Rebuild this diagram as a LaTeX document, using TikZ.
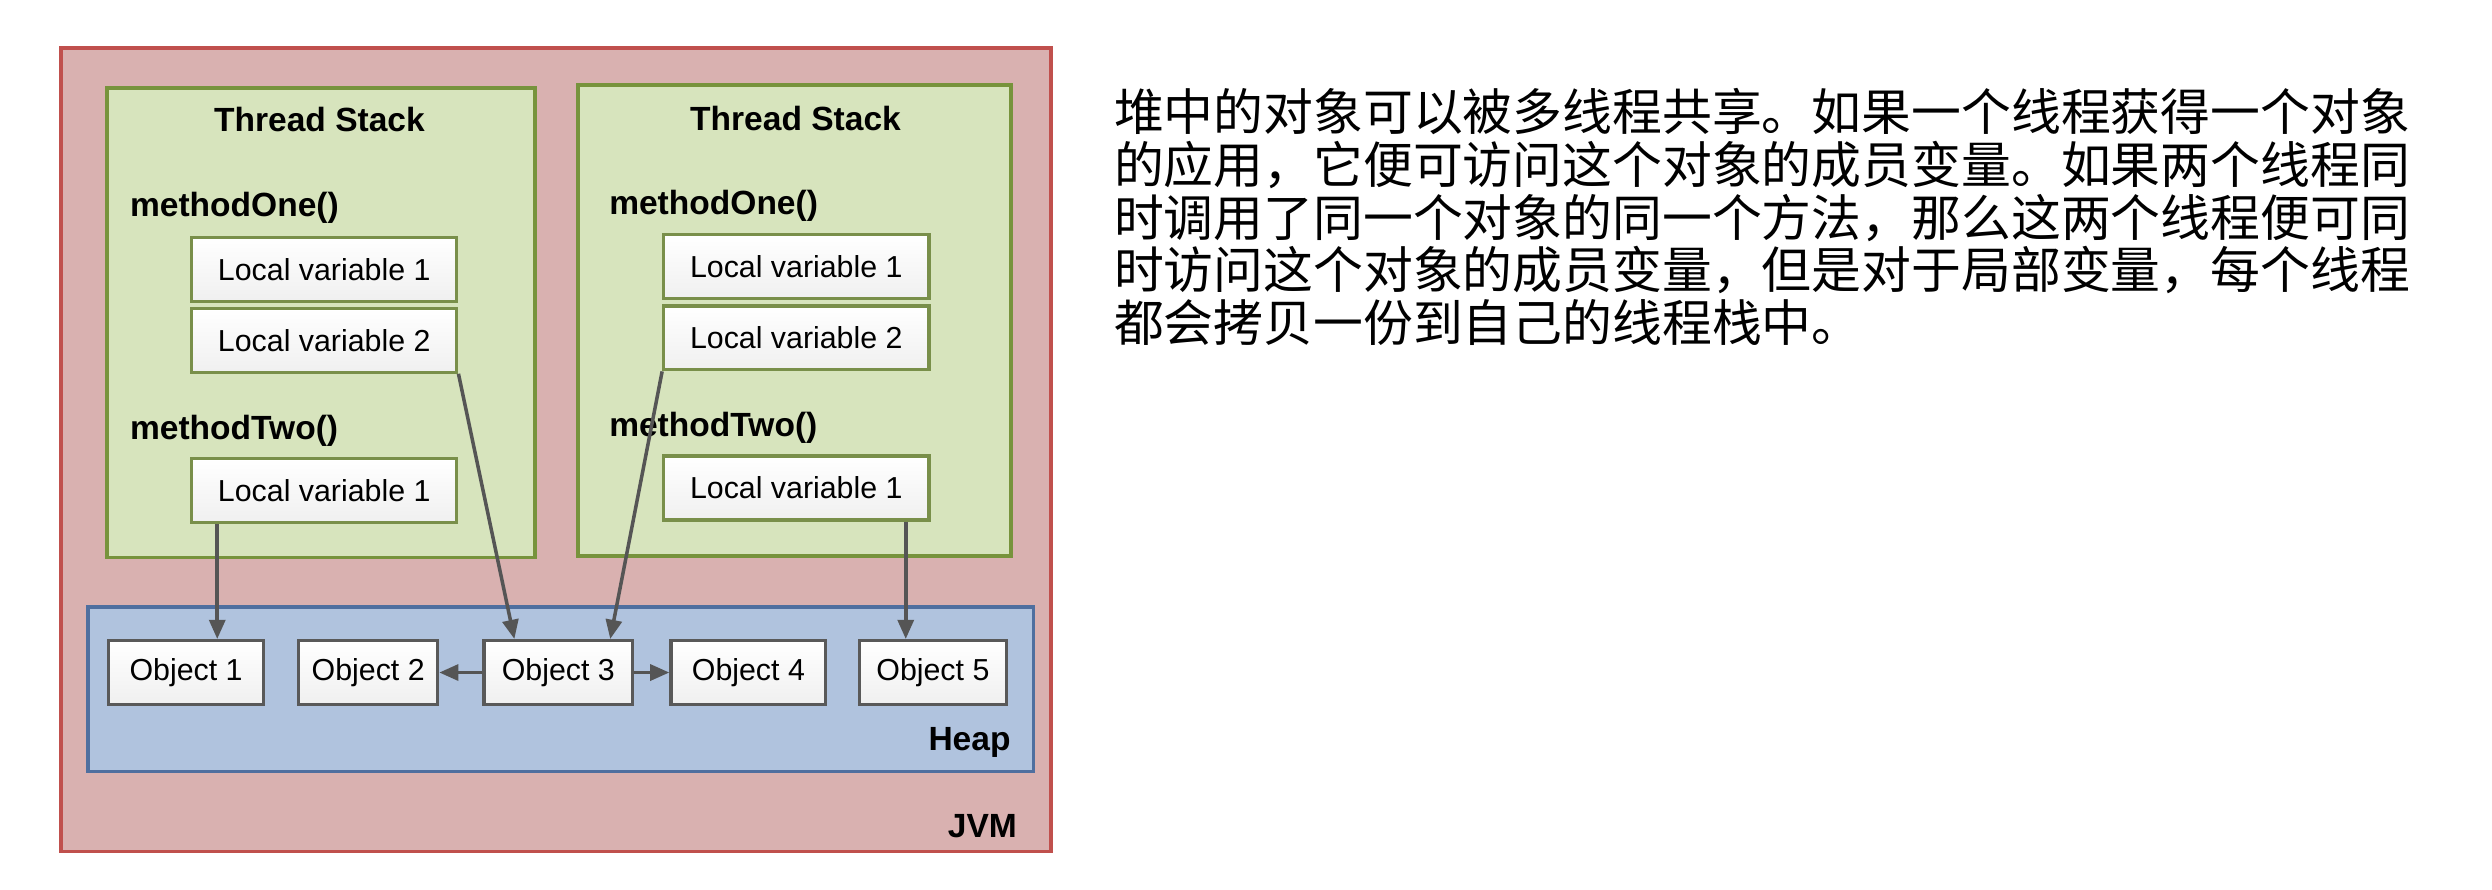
\documentclass[tikz,border=0pt]{standalone}
\usepackage{fontspec}
\setmainfont{Liberation Sans}
\newfontfamily\cjk{Noto Sans CJK SC}
\usetikzlibrary{arrows.meta}
\definecolor{jvmfill}{HTML}{D9B1B0}
\definecolor{jvmdraw}{HTML}{C0504D}
\definecolor{tsfill}{HTML}{D7E4BD}
\definecolor{tsdraw}{HTML}{77933C}
\definecolor{heapfill}{HTML}{B0C3DE}
\definecolor{heapdraw}{HTML}{4F6F9F}
\definecolor{arr}{HTML}{555555}
\begin{document}
\begin{tikzpicture}[x=0.5pt,y=-0.5pt,
  region/.style={line width=1.2pt},
  lv/.style={draw=tsdraw!80!gray,line width=1pt,top color=white,bottom color=gray!12,minimum width=83pt,minimum height=20pt,inner sep=0pt,font=\fontsize{9.5}{11}\selectfont},
  obj/.style={draw=gray!70!black,line width=1pt,top color=white,bottom color=gray!12,minimum height=20pt,inner sep=0pt,font=\fontsize{9.5}{11}\selectfont},
  ttl/.style={font=\bfseries\fontsize{10.5}{12}\selectfont,inner sep=0pt},
  arrw/.style={draw=arr,line width=1.1pt,-{Triangle[length=6pt,width=5pt]}}]
\useasboundingbox (0,0) rectangle (1560,557);
\draw[region,fill=jvmfill,draw=jvmdraw] (38,30) rectangle (658,533);
\draw[region,fill=tsfill,draw=tsdraw] (67,55) rectangle (335,349);
\draw[region,fill=tsfill,draw=tsdraw] (362,53) rectangle (633,348);
\draw[region,fill=heapfill,draw=heapdraw] (55,380) rectangle (647,483);
\node[ttl] (t1) at (200,75) {Thread Stack};
\node[ttl] (t2) at (498,74) {Thread Stack};
\node[ttl,anchor=west] (m11) at (81,130) {methodOne()};
\node[ttl,anchor=west] (m12) at (81,270) {methodTwo()};
\node[ttl,anchor=west] (m21) at (381,129) {methodOne()};
\node[ttl,anchor=west] (m22) at (381,268) {methodTwo()};
\node[lv] (a1) at (203,168.5) {Local variable 1};
\node[lv] (a2) at (203,213) {Local variable 2};
\node[lv] (a3) at (203,307) {Local variable 1};
\node[lv] (b1) at (498.5,167) {Local variable 1};
\node[lv] (b2) at (498.5,211.5) {Local variable 2};
\node[lv] (b3) at (498.5,305.5) {Local variable 1};
\node[obj,minimum width=48.5pt] (o1) at (116.5,421) {Object 1};
\node[obj,minimum width=43.5pt] (o2) at (230.5,421) {Object 2};
\node[obj,minimum width=46.5pt] (o3) at (349.5,421) {Object 3};
\node[obj,minimum width=48.5pt] (o4) at (468.5,421) {Object 4};
\node[obj,minimum width=46pt] (o5) at (584,421) {Object 5};
\node[ttl,anchor=east] (heap) at (633,465) {Heap};
\node[ttl,anchor=east] (jvm) at (637,517) {JVM};
\draw[arrw] (a3.south -| 136,0) -- (o1.north -| 136,0);
\draw[arrw] (a2.south east) -- (o3.north -| 322,0);
\draw[arrw] (b2.south west) -- (o3.north -| 382,0);
\draw[arrw] (b3.south -| 567,0) -- (o5.north -| 567,0);
\draw[arrw] (o3) -- (o2);
\draw[arrw] (o3) -- (o4);
\node[anchor=north west,align=left,inner sep=0pt,font=\cjk\fontsize{15.6}{16.5}\selectfont] (txt) at (697,55)
{堆中的对象可以被多线程共享。如果一个线程获得一个对象\\
的应用，它便可访问这个对象的成员变量。如果两个线程同\\
时调用了同一个对象的同一个方法，那么这两个线程便可同\\
时访问这个对象的成员变量，但是对于局部变量，每个线程\\
都会拷贝一份到自己的线程栈中。};
\end{tikzpicture}
\end{document}
